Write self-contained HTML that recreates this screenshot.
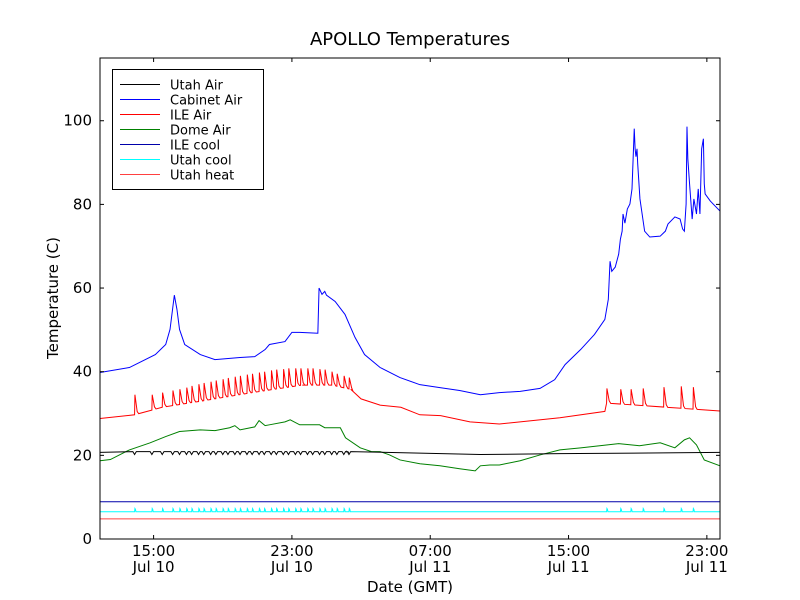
<!DOCTYPE html>
<html><head><meta charset="utf-8"><style>
body{margin:0;background:#fff;}
svg{display:block;font-family:"DejaVu Sans","Liberation Sans",sans-serif;}
</style></head><body>
<svg id="chart" width="800" height="600" viewBox="0 0 800 600" xmlns="http://www.w3.org/2000/svg">
<rect x="0" y="0" width="800" height="600" fill="#fff"/>
<text x="410" y="45" font-size="18" text-anchor="middle">APOLLO Temperatures</text>
<text x="58" y="298" font-size="15" text-anchor="middle" transform="rotate(-90 58 298)">Temperature (C)</text>
<text x="410" y="592" font-size="15" text-anchor="middle">Date (GMT)</text>
<g id="series"></g>
<g id="axes"></g>
<g id="legend"></g>
</svg>
<script>
// hours since 12:00 Jul 10
const xTickHours=[3,11,19,27,35];
const xTickTimes=["15:00","23:00","07:00","15:00","23:00"];
const xTickDates=["Jul 10","Jul 10","Jul 11","Jul 11","Jul 11"];
const yTicks=[0,20,40,60,80,100];
const cabinetT=[-0.1,1.6,3.1,3.7,3.95,4.2,4.35,4.5,4.8,5.7,6.55,8.0,8.85,9.45,9.7,10.6,11.0,11.45,12.5,12.57,12.74,12.9,13.0,13.5,14.07,14.65,15.2,16.1,17.25,18.4,19.56,20.7,21.9,23.0,24.2,25.35,26.2,26.8,27.7,28.5,29.1,29.3,29.4,29.5,29.7,29.9,30.0,30.1,30.15,30.26,30.4,30.55,30.67,30.8,30.85,30.9,30.96,31.0,31.13,31.4,31.7,32.3,32.6,32.75,33.15,33.45,33.6,33.7,33.8,33.85,33.9,34.0,34.15,34.25,34.4,34.5,34.6,34.7,34.8,34.85,34.9,35.2,35.76];
const cabinetV=[39.8,41.0,44.1,46.5,50.1,58.3,54.9,50.1,46.5,44.1,42.9,43.4,43.6,45.3,46.5,47.2,49.4,49.4,49.2,60.0,58.5,59.2,58.3,56.8,53.7,48.2,44.1,41.0,38.6,36.9,36.2,35.5,34.5,35.0,35.3,36.0,38.1,41.7,45.3,48.9,52.5,57.3,66.4,64.0,65.0,68.1,71.7,73.6,77.7,75.5,78.9,80.1,83.7,98.1,93.3,91.4,93.3,89.7,81.3,73.6,72.2,72.4,73.6,75.3,77.0,76.5,74.1,73.6,80.1,98.6,90.9,84.9,76.5,81.3,77.7,83.7,77.7,93.3,95.7,84.9,82.5,80.8,78.4];
const ileBaseT=[-0.1,1.9,3.5,5.8,8.7,11.6,13.3,14.4,15.0,16.1,17.3,18.4,19.6,21.3,23.0,24.2,26.5,29.1,29.2,35.76];
const ileBaseV=[28.8,29.7,31.5,33.0,35.0,36.8,36.8,35.8,33.5,32.0,31.5,29.7,29.5,28.0,27.5,28.0,29.0,30.5,32.5,30.6];
const ileSpikeT=[1.9,2.9,3.5,4.1,4.5,4.9,5.2,5.6,5.9,6.3,6.6,7.0,7.3,7.7,8.0,8.4,8.7,9.1,9.4,9.8,10.1,10.5,10.8,11.2,11.5,11.9,12.2,12.6,12.9,13.3,13.6,14.0,14.3,29.2,30.0,30.6,31.3,32.5,33.5,34.2];
const ileSpikeV=[34.5,34.5,35.0,35.5,35.8,36.2,36.6,37.0,37.3,37.6,37.9,38.2,38.5,38.8,39.0,39.3,39.5,39.8,40.0,40.3,40.5,40.6,40.8,40.8,40.8,40.8,40.8,40.6,40.5,40.0,39.5,39.0,38.6,36.0,35.8,35.8,36.0,36.3,36.5,36.3];
const domeT=[-0.1,0.5,1.6,2.8,3.7,4.5,5.7,6.55,7.4,7.7,8.0,8.85,9.1,9.45,9.7,10.6,10.9,11.45,12.6,12.9,13.8,14.1,14.95,15.6,16.1,16.65,17.25,18.4,19.56,20.7,21.6,21.9,22.45,23.0,24.2,25.35,26.5,27.7,28.8,29.9,31.1,32.3,33.15,33.7,34.0,34.4,34.85,35.76];
const domeV=[18.7,19.0,21.3,23.0,24.5,25.7,26.1,25.9,26.6,27.1,26.1,26.8,28.3,27.1,27.3,28.0,28.5,27.3,27.3,26.6,26.6,24.2,21.8,20.9,20.9,20.1,18.9,18.0,17.5,16.8,16.3,17.5,17.7,17.7,18.7,20.1,21.3,21.8,22.3,22.8,22.3,23.0,21.8,23.7,24.2,22.5,18.9,17.5];
const utahAirT=[-0.1,14.3,21.9,26.5,35.76];
const utahAirV=[20.7,20.7,20.2,20.4,20.7];
const utahAirDip=[0.5];
const ileCoolV=[8.9];
const utahCoolV=[6.5];
const utahCoolSpike=[7.3];
const utahHeatV=[4.8];

const NS="http://www.w3.org/2000/svg";
const L=100,R=720,T=58,B=539,H0=-0.1,H1=35.76,Y0=0,Y1=115;
function xs(h){return L+(h-H0)/(H1-H0)*(R-L);}
function ys(v){return B-(v-Y0)/(Y1-Y0)*(B-T);}
function mk(tag,parent){const e=document.createElementNS(NS,tag);parent.appendChild(e);return e;}
function interp(ts,vs,t){if(t<=ts[0])return vs[0];for(let i=1;i<ts.length;i++){if(t<=ts[i]){const f=(t-ts[i-1])/(ts[i]-ts[i-1]);return vs[i-1]+f*(vs[i]-vs[i-1]);}}return vs[vs.length-1];}
function pathD(pts){return pts.map((p,i)=>(i?'L':'M')+xs(p[0]).toFixed(2)+','+ys(p[1]).toFixed(2)).join('');}
const sg=document.getElementById('series');
function line(pts,color,name){const p=mk('path',sg);p.setAttribute('d',pathD(pts));p.setAttribute('fill','none');p.setAttribute('stroke',color);p.setAttribute('stroke-width','1');

}
function spiky(baseT,baseV,spT,spV,width){const pts=[];let all=baseT.map((t,i)=>[t,baseV[i],null]);spT.forEach((t,i)=>all.push([t,interp(baseT,baseV,t),spV[i]]));all.sort((a,b)=>a[0]-b[0]);
all.forEach(a=>{if(a[2]===null)pts.push([a[0],a[1]]);else{pts.push([a[0],a[1]]);pts.push([a[0]+0.02,a[2]]);pts.push([a[0]+width,interp(baseT,baseV,a[0]+width)+0.6]);pts.push([a[0]+width*1.6,interp(baseT,baseV,a[0]+width*1.6)]);}});return pts;}
function zig(baseT,baseV,spT,dip){const pts=[];let all=baseT.map((t,i)=>[t,baseV[i],0]);spT.forEach(t=>all.push([t,interp(baseT,baseV,t),1]));all.sort((a,b)=>a[0]-b[0]);
all.forEach(a=>{if(!a[2])pts.push([a[0],a[1]]);else{pts.push([a[0]-0.1,a[1]+dip*0.4]);pts.push([a[0],a[1]-dip]);pts.push([a[0]+0.1,a[1]+dip*0.4]);}});return pts;}
line([[H0,utahHeatV[0]],[H1,utahHeatV[0]]],'#ff4040','utah-heat-line');
line(spiky([H0,H1],[utahCoolV[0],utahCoolV[0]],ileSpikeT,ileSpikeT.map(()=>utahCoolSpike[0]),0.05),'#00ffff','utah-cool-line');
line([[H0,ileCoolV[0]],[H1,ileCoolV[0]]],'#0000aa','ile-cool-line');
line(domeT.map((t,i)=>[t,domeV[i]]),'#008000','dome-air-line');
line(zig(utahAirT,utahAirV,ileSpikeT.slice(0,33),utahAirDip[0]),'#000000','utah-air-line');
line(spiky(ileBaseT,ileBaseV,ileSpikeT,ileSpikeV,0.15),'#ff0000','ile-air-line');
line(cabinetT.map((t,i)=>[t,cabinetV[i]]),'#0000ff','cabinet-air-line');

const ag=document.getElementById('axes');
const fr=mk('rect',ag);fr.setAttribute('x',L);fr.setAttribute('y',T);fr.setAttribute('width',R-L);fr.setAttribute('height',B-T);fr.setAttribute('fill','none');fr.setAttribute('stroke','#000');


yTicks.forEach(v=>{const y=ys(v);[[L,L+4],[R,R-4]].forEach(a=>{const l=mk('line',ag);l.setAttribute('x1',a[0]);l.setAttribute('x2',a[1]);l.setAttribute('y1',y);l.setAttribute('y2',y);l.setAttribute('stroke','#000');

});
const t=mk('text',ag);t.setAttribute('x',L-8);t.setAttribute('y',y+5);t.setAttribute('font-size','15');t.setAttribute('text-anchor','end');t.textContent=v;

});
xTickHours.forEach((h,i)=>{const x=xs(h);[[B,B-4],[T,T+4]].forEach(a=>{const l=mk('line',ag);l.setAttribute('x1',x);l.setAttribute('x2',x);l.setAttribute('y1',a[0]);l.setAttribute('y2',a[1]);l.setAttribute('stroke','#000');

});
const t=mk('text',ag);t.setAttribute('x',x);t.setAttribute('y',556);t.setAttribute('font-size','15');t.setAttribute('text-anchor','middle');t.textContent=xTickTimes[i];


const d=mk('text',ag);d.setAttribute('x',x);d.setAttribute('y',572);d.setAttribute('font-size','15');d.setAttribute('text-anchor','middle');d.textContent=xTickDates[i];

});

const legNames=["Utah Air","Cabinet Air","ILE Air","Dome Air","ILE cool","Utah cool","Utah heat"];
const legColors=["#000000","#0000ff","#ff0000","#008000","#0000aa","#00ffff","#ff4040"];
const lg=document.getElementById('legend');
const lb=mk('rect',lg);lb.setAttribute('x',112.5);lb.setAttribute('y',69.5);lb.setAttribute('width',151);lb.setAttribute('height',120);lb.setAttribute('fill','#fff');lb.setAttribute('stroke','#000');


legNames.forEach((n,i)=>{const y=84.5+i*15;const l=mk('line',lg);l.setAttribute('x1',120);l.setAttribute('x2',160);l.setAttribute('y1',y);l.setAttribute('y2',y);l.setAttribute('stroke',legColors[i]);


const t=mk('text',lg);t.setAttribute('x',170);t.setAttribute('y',y+5);t.setAttribute('font-size','13');t.textContent=n;

});
</script>
</body></html>
